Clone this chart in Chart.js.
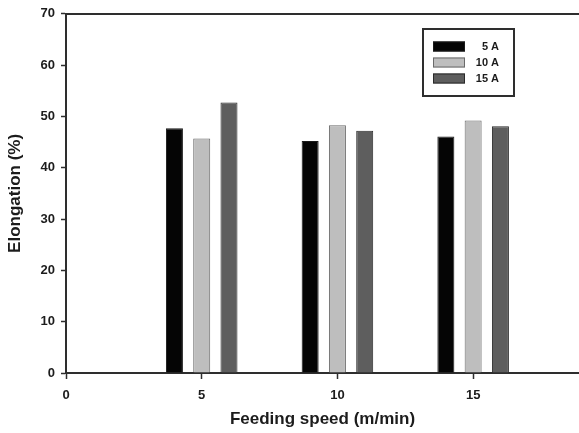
<!DOCTYPE html>
<html>
<head>
<meta charset="utf-8">
<script src="https://cdn.jsdelivr.net/npm/chart.js@4/dist/chart.umd.min.js"></script>
<style>
  html, body { margin: 0; padding: 0; background: #fff; overflow: hidden; }
  #wrap { width: 579px; height: 433px; }
</style>
</head>
<body>
<div id="wrap"><canvas id="c" width="579" height="433"></canvas></div>
<script>
// Feeding speed (m/min) groups
const speeds = [5, 10, 15];
// Elongation (%) per welding current
const current5A  = [47.7, 45.2, 46.1];
const current10A = [45.7, 48.3, 49.2];
const current15A = [52.7, 47.2, 48.1];
const seriesLabels = ['5 A', '10 A', '15 A'];
const xTicks = [0, 5, 10, 15];
const yTicks = [0, 10, 20, 30, 40, 50, 60, 70];

const ink = '#1c1c1c';
const axisColor = '#2e2e2e';
const fills = ['#050505', '#bebebe', '#5e5e5e'];
const edges = ['#1a1a1a', '#6a6a6a', '#2a2a2a'];

function points(vals) {
  return speeds.map((s, i) => ({ x: s, y: vals[i] }));
}

// Boxed legend drawn inside the plot area
const boxLegend = {
  id: 'boxLegend',
  afterDraw(chart, args, opts) {
    const ctx = chart.ctx;
    ctx.save();
    ctx.strokeStyle = axisColor;
    ctx.lineWidth = 2;
    ctx.strokeRect(opts.x, opts.y, opts.w, opts.h);
    ctx.font = 'bold 11px "Liberation Sans", Arial, sans-serif';
    ctx.textBaseline = 'middle';
    chart.data.datasets.forEach((ds, i) => {
      const cy = opts.firstRow + i * opts.rowGap;
      ctx.fillStyle = ds.backgroundColor;
      ctx.fillRect(opts.swX, cy - opts.swH / 2, opts.swW, opts.swH);
      ctx.strokeStyle = ds.borderColor;
      ctx.lineWidth = 1;
      ctx.strokeRect(opts.swX + 0.5, cy - opts.swH / 2 + 0.5, opts.swW - 1, opts.swH - 1);
      ctx.fillStyle = ink;
      ctx.textAlign = 'right';
      ctx.fillText(ds.label, opts.textRight, cy + 0.5);
    });
    ctx.restore();
  }
};

const tickFont = { family: '"Liberation Sans", Arial, sans-serif', size: 13, weight: 'bold' };
const titleFont = { family: '"Liberation Sans", Arial, sans-serif', size: 17, weight: 'bold' };

new Chart(document.getElementById('c'), {
  type: 'bar',
  data: {
    datasets: [current5A, current10A, current15A].map((vals, i) => ({
      label: seriesLabels[i],
      data: points(vals),
      backgroundColor: fills[i],
      borderColor: edges[i],
      borderWidth: 1,
      categoryPercentage: 0.603,
      barPercentage: 0.623
    }))
  },
  options: {
    responsive: false,
    animation: false,
    devicePixelRatio: 1,
    layout: { padding: { top: 13, right: 0, left: 0, bottom: 0 } },
    plugins: {
      legend: { display: false },
      tooltip: { enabled: false },
      boxLegend: {
        x: 423, y: 29, w: 91, h: 67,
        swX: 433, swW: 32, swH: 10,
        firstRow: 46.5, rowGap: 16,
        textRight: 499
      }
    },
    scales: {
      x: {
        type: 'linear',
        position: 'bottom',
        min: 0,
        max: 18.9,
        offset: false,
        afterBuildTicks: (s) => { s.ticks = xTicks.map(v => ({ value: v })); },
        afterFit: (s) => { s.height = 60; },
        grid: { display: true, drawOnChartArea: false, drawTicks: true, tickLength: 6, tickWidth: 1.5, tickColor: axisColor, offset: false },
        border: { display: true, color: axisColor, width: 2 },
        ticks: { padding: 9, color: ink, maxRotation: 0, font: tickFont },
        title: {
          display: true,
          text: 'Feeding speed (m/min)',
          color: ink,
          padding: { top: 0, bottom: 3 },
          font: titleFont
        }
      },
      xTop: {
        type: 'linear',
        position: 'top',
        min: 0,
        max: 18.9,
        offset: false,
        afterFit: (s) => { s.height = 0; },
        grid: { display: false, drawTicks: false },
        border: { display: true, color: axisColor, width: 2 },
        ticks: { display: false }
      },
      y: {
        type: 'linear',
        position: 'left',
        min: 0,
        max: 70,
        afterBuildTicks: (s) => { s.ticks = yTicks.map(v => ({ value: v })); },
        afterFit: (s) => { s.width = 66; },
        grid: { display: true, drawOnChartArea: false, drawTicks: true, tickLength: 5, tickWidth: 1.5, tickColor: axisColor },
        border: { display: true, color: axisColor, width: 2 },
        ticks: { padding: 6, color: ink, font: tickFont },
        title: {
          display: true,
          text: 'Elongation (%)',
          color: ink,
          padding: { top: 5, bottom: 0 },
          font: titleFont
        }
      }
    }
  },
  plugins: [boxLegend]
});
</script>
</body>
</html>
